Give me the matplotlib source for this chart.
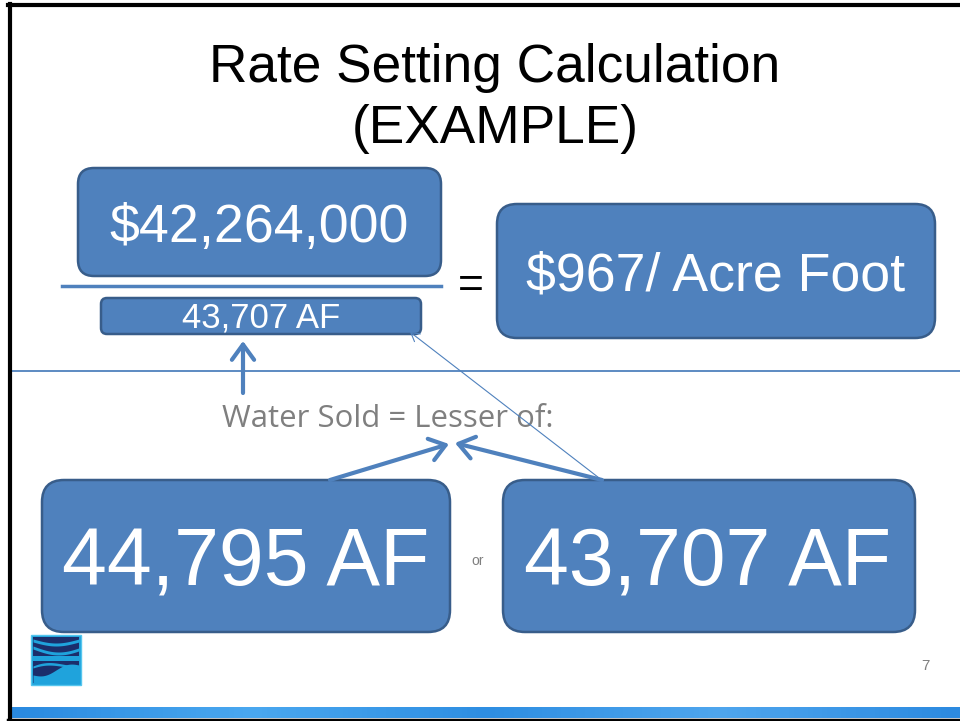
import matplotlib
matplotlib.use("Agg")
import matplotlib.pyplot as plt
from matplotlib.patches import FancyBboxPatch, Rectangle, FancyArrowPatch
import numpy as np

# ---- content ----
title_lines = ["Rate Setting Calculation", "(EXAMPLE)"]
numerator_label = "$42,264,000"
denominator_label = "43,707 AF"
result_label = "$967/ Acre Foot"
middle_label = "Water Sold = Lesser of:"
option_labels = ["44,795 AF", "43,707 AF"]
or_label = "or"
page_label = "7"

BLUE = "#4F81BD"
EDGE = "#385D8A"
GREY = "#7F7F7F"

fig = plt.figure(figsize=(9.6, 7.21), dpi=100)
ax = fig.add_axes([0, 0, 1, 1])
ax.set_xlim(0, 960)
ax.set_ylim(721, 0)
ax.axis("off")

def rbox(x0, y0, x1, y1, r):
    p = FancyBboxPatch((x0, y0), x1 - x0, y1 - y0,
                       boxstyle=f"round,pad=0,rounding_size={r}",
                       fc=BLUE, ec=EDGE, lw=1.8, zorder=2)
    ax.add_patch(p)

def txt(x, y, s, size, color, family="Liberation Sans"):
    ax.text(x, y, s, ha="center", va="baseline", fontsize=size,
            family=family, color=color, zorder=3)

# frame
ax.plot([9.5, 9.5], [4, 721], color="black", lw=3, zorder=5)
ax.plot([8, 960], [4.5, 4.5], color="black", lw=3, zorder=5)
# bottom strip
grad = np.linspace(0, 1, 200).reshape(1, -1)
ax.imshow(grad, extent=(11, 960, 718, 707), cmap=matplotlib.colors.LinearSegmentedColormap.from_list(
    "s", ["#2A8AE0", "#4AA8F0", "#2E8EE2", "#4FA6EE", "#2C8AE0"]), aspect="auto", zorder=1)
ax.plot([8, 960], [719.5, 719.5], color="black", lw=2.5, zorder=5)

# title
txt(495, 82, title_lines[0], 38.3, "black")
txt(495, 143, title_lines[1], 38.3, "black")

# numerator
rbox(78, 168, 441, 276, 16)
txt(259, 242, numerator_label, 38.7, "white")
# fraction line
ax.plot([62, 441], [286, 286], color=BLUE, lw=2.5, zorder=2)
# denominator
rbox(101, 298, 421, 334, 6)
txt(261, 328, denominator_label, 25, "white")
# equals
ax.text(471, 286, "=", ha="center", va="center", fontsize=32,
        family="Liberation Sans", color="black")
# result
rbox(497, 204, 935, 338, 20)
txt(716, 290, result_label, 38.7, "white")

# horizontal rule
ax.plot([10, 960], [371, 371], color=BLUE, lw=1.3, zorder=1)

# middle label
txt(388, 427, middle_label, 22.4, GREY, family="Open Sans")

def arrow(p0, p1, lw, hl, hw):
    a = FancyArrowPatch(p0, p1, arrowstyle=f"->,head_length={hl},head_width={hw}",
                        mutation_scale=1, color=BLUE, lw=lw, zorder=4,
                        shrinkA=0, shrinkB=0, capstyle="round", joinstyle="round")
    ax.add_patch(a)

# up arrow
arrow((243, 393), (243, 341), 3, 11, 8)
# arrows to label
arrow((330, 480), (449, 444), 3, 11, 8)
arrow((602, 480), (455, 443), 3, 11, 8)
# thin arrow
arrow((603, 481), (410, 332), 0.8, 6, 3.5)

# options
rbox(42, 480, 450, 632, 22)
txt(246, 586, option_labels[0], 58, "white")
rbox(503, 480, 915, 632, 22)
txt(708, 586, option_labels[1], 58, "white")
txt(478, 565, or_label, 10, GREY)

# page number
txt(925, 670, page_label, 11, GREY)

# logo
lx0, ly0, ls = 31, 635, 50
ax.add_patch(Rectangle((lx0, ly0), ls, ls, fc="#1FA3DC", ec="#55C6EE", lw=1, zorder=2))
ax.add_patch(Rectangle((lx0 + 2, ly0 + 2), ls - 4, ls - 4, fc="#1B2E6B", ec="none", zorder=2))
t = np.linspace(0, 1, 60)
xs = lx0 + 2 + t * (ls - 4)
def band(y_top, y_bot):
    ax.fill_between(xs, ly0 + y_top, ly0 + y_bot, color="#1FA3DC", zorder=3, lw=0)
band(4 + 4 * np.sin(np.pi * t), 7 + 4 * np.sin(np.pi * t))
band(11 + 6 * np.sin(np.pi * t * 0.9), 14 + 6 * np.sin(np.pi * t * 0.9))
band(21 + 0 * t, 26 + 0 * t)
band(31 - 6 * np.sin(np.pi * t) * (1 - t), 33 - 5 * np.sin(np.pi * t) * (1 - t))
band(40 - 10 * t + 3 * np.sin(2 * np.pi * t), 48 + 0 * t)

fig.savefig("out.png", dpi=100)
